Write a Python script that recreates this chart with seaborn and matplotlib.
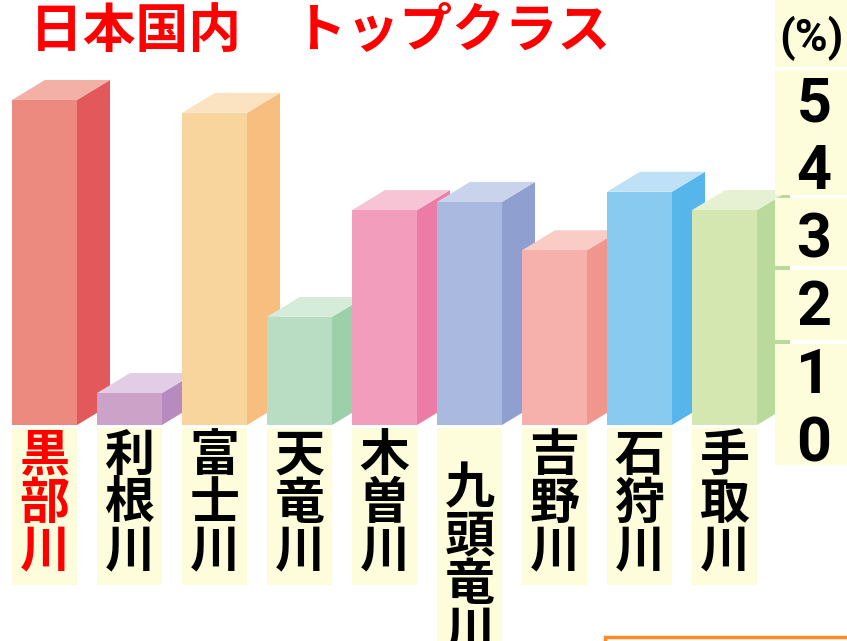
import numpy as np
import pandas as pd
import seaborn as sns
import matplotlib.pyplot as plt
from matplotlib.patches import Polygon, Rectangle
from matplotlib.transforms import ScaledTranslation

# ---- data ----
rivers = ["黒部川", "利根川", "富士川", "天竜川", "木曽川", "九頭竜川", "吉野川", "石狩川", "手取川"]
values = [4.78, 0.47, 4.59, 1.59, 3.16, 3.28, 2.57, 3.43, 3.16]
front_colors = ["#EC8A80", "#CDA2C9", "#F8D59C", "#B8DDC2", "#F39DBC", "#A9B9E0", "#F6B1AC", "#89CAF1", "#D5E7B1"]
side_colors = ["#E3585A", "#B78AC0", "#F7BE80", "#9BD0A8", "#EC7CA6", "#8F9FD0", "#F0968C", "#56B6EC", "#B9DA9A"]
top_colors = ["#F3B1A6", "#E2CDE6", "#FBE3C2", "#D6ECDA", "#F7C4D6", "#CAD3EC", "#F9CDC6", "#BFE1F7", "#E6F0D2"]
tick_values = [0, 1, 2, 3, 4, 5]
tick_labels = ["0", "1", "2", "3", "4", "5"]
title = "日本国内　トップクラス"
unit_label = "(%)"

sns.set_theme(style="white")
plt.rcParams['font.family'] = ['Noto Sans CJK JP', 'DejaVu Sans']

W, H = 847, 641
fig = plt.figure(figsize=(W / 100, H / 100), dpi=100, facecolor="white")
ax_right_px = 795
ax = fig.add_axes([0, 0, ax_right_px / W, 1])
ax.set_facecolor("white")

df = pd.DataFrame({"river": rivers, "value": values})
bar_w = 0.765
sns.barplot(data=df, x="river", y="value", hue="river", palette=front_colors,
            width=bar_w, saturation=1, legend=False, ax=ax, linewidth=0, edgecolor="none")

# scale: 85 px per category, 68 px per unit, base at 425 px from top
px_x, px_y = 85.0, 68.0
x_left = -44.5 / px_x
ax.set_xlim(x_left, x_left + ax_right_px / px_x)
ax.set_ylim(-(H - 425) / px_y, 425 / px_y)

dx = 33 / px_x
dy = 20 / px_y
for i, p in enumerate(ax.patches):
    p.set_zorder(3 + 2 * i)
for i, v in enumerate(values):
    x0, x1 = i - bar_w / 2, i + bar_w / 2
    side = Polygon([(x1, 0), (x1, v), (x1 + dx, v + dy), (x1 + dx, dy)], closed=True,
                   facecolor=side_colors[i], edgecolor="none", zorder=2 + 2 * i)
    top = Polygon([(x0, v), (x1, v), (x1 + dx, v + dy), (x0 + dx, v + dy)], closed=True,
                  facecolor=top_colors[i], edgecolor="none", zorder=2 + 2 * i)
    ax.add_patch(side)
    ax.add_patch(top)

# category label boxes
box_color = "#FEFDDB"
for i, r in enumerate(rivers):
    bottom = -(H - 425) / px_y if len(r) > 3 else -160 / px_y
    ax.add_patch(Rectangle((i - bar_w / 2, bottom), bar_w, -bottom - 3 / px_y,
                           facecolor=box_color, edgecolor="none", zorder=30))

# x tick labels (vertical text)
for s in ax.spines.values():
    s.set_visible(False)
ax.spines['bottom'].set_position(('data', 0))
ax.set_xticks(range(len(rivers)))
ax.set_xticklabels(["\n".join(r) for r in rivers], fontsize=36, fontweight="bold",
                   linespacing=0.93, va="top")
ax.tick_params(axis="x", length=0, pad=4)
ax.set_xlabel("")
for i, lab in enumerate(ax.get_xticklabels()):
    lab.set_color("#FF0000" if i == 0 else "black")
    if len(rivers[i]) > 3:
        lab.set_transform(lab.get_transform() + ScaledTranslation(0, -0.33, fig.dpi_scale_trans))
ax.xaxis.set_zorder(100)

# y tick labels on right
ax.yaxis.tick_right()
ax.set_yticks(tick_values)
ax.set_yticklabels(tick_labels, fontsize=44, fontweight="bold", color="black",
                   family=['Roboto', 'DejaVu Sans'])
ax.tick_params(axis="y", length=0, pad=1)
ax.set_ylabel("")
for lab in ax.get_yticklabels():
    lab.set_transform(lab.get_transform() + ScaledTranslation(0, -0.13, fig.dpi_scale_trans))
ax.yaxis.set_zorder(100)

# right-hand yellow boxes (in figure px from top)
for (t, b) in [(0, 67), (70, 195), (198, 266), (270, 340), (344, 465)]:
    ax.add_patch(Rectangle((775 / W, 1 - b / H), 1 - 775 / W, (b - t) / H,
                           transform=fig.transFigure, facecolor=box_color,
                           edgecolor="none", clip_on=False, zorder=50))

fig.text(811 / W, 1 - 38 / H, unit_label, ha="center", va="center", fontsize=32,
         fontweight="bold", color="black", family=['Roboto', 'DejaVu Sans'], zorder=120)

fig.text(30 / W, 1 - 32 / H, title, ha="left", va="center", fontsize=38,
         fontweight="bold", color="#FF0000")

# orange frame at bottom right
fig.patches.append(Rectangle((605 / W, -0.05), 0.5, 0.05 + 4 / H, transform=fig.transFigure,
                             facecolor="none", edgecolor="#FF8A2A", linewidth=2.5, figure=fig))

fig.savefig("out.png", dpi=100, facecolor="white")
